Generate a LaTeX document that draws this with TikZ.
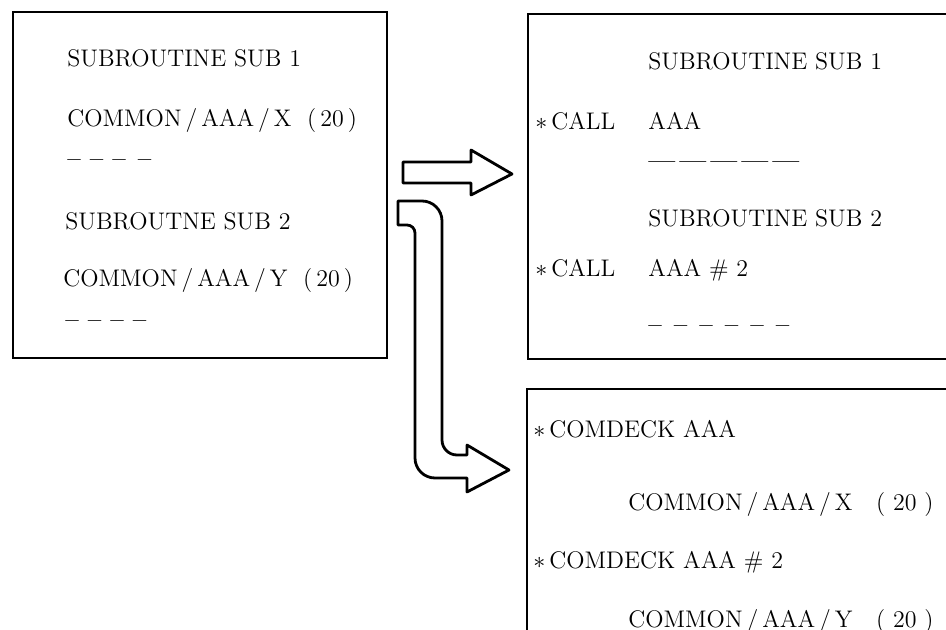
\documentclass[tikz,border=0pt]{standalone}
\begin{document}
\begin{tikzpicture}[x=0.5pt,y=-0.5pt,
	txt/.style={anchor=base west,inner sep=0pt,font=\fontsize{12}{14}\selectfont},
	dashes/.style={anchor=west,inner sep=0pt,font=\fontsize{12}{14}\selectfont\bfseries},
	frame/.style={line width=1.4pt},
	blockarrow/.style={line width=1.4pt,line join=round}]
	\useasboundingbox (0,0) rectangle (946,630);
	\clip (0,0) rectangle (946,630);
	
	% source program
	\draw[frame] (13,12) rectangle (387,358);
	\node[txt] (src1) at (67,67) {SUBROUTINE SUB 1};
	\node[txt] (src2) at (67,127) {COMMON\,/\,AAA\,/\,X\ \ (\,20\,)};
	\node[dashes] (src3) at (67,163) {-- -- --\enspace--};
	\node[txt] (src4) at (65,230) {SUBROUTNE SUB 2};
	\node[txt] (src5) at (63,287) {COMMON\,/\,AAA\,/\,Y\ \ (\,20\,)};
	\node[dashes] (src6) at (65,324) {-- -- -- --};
	
	% program with calls
	\draw[frame] (950,14) -- (528,14) -- (528,359) -- (950,359);
	\node[txt] (call1) at (648,70) {SUBROUTINE SUB 1};
	\node[txt] (call2) at (535,130) {$\ast$\,CALL};
	\node[txt] (call3) at (648,130) {AAA};
	\node[dashes] (call4) at (648,165) {---\,---\,---\,---\,---};
	\node[txt] (call5) at (648,227) {SUBROUTINE SUB 2};
	\node[txt] (call6) at (535,277) {$\ast$\,CALL};
	\node[txt] (call7) at (648,277) {AAA \# 2};
	\node[dashes] (call8) at (648,329) {--\enspace--\enspace--\enspace--\enspace--\enspace--};
	
	% comdecks
	\draw[frame] (950,389) -- (527,389) -- (527,634);
	\node[txt] (deck1) at (533,437) {$\ast$\,COMDECK AAA};
	\node[txt] (deck2) at (628,510) {COMMON\,/\,AAA\,/\,X\ \ \ (\ 20\ )};
	\node[txt] (deck3) at (533,568) {$\ast$\,COMDECK AAA \# 2};
	\node[txt] (deck4) at (628,627) {COMMON\,/\,AAA\,/\,Y\ \ \ (\ 20\ )};
	
	% straight arrow
	\draw[blockarrow] (403,162) -- (471,162) -- (471,150) -- (512,174) -- (471,195) -- (471,183) -- (403,183) -- cycle;
	
	% bent arrow
	\draw[blockarrow] (398,201) -- (422,201) arc(-90:0:20) -- (442,440) arc(180:90:15)
		-- (467,455) -- (467,445) -- (509,470) -- (467,492) -- (467,478)
		-- (435,478) arc(90:180:20) -- (415,233) arc(0:-90:8) -- (398,225) -- cycle;
	
\end{tikzpicture}
\end{document}
